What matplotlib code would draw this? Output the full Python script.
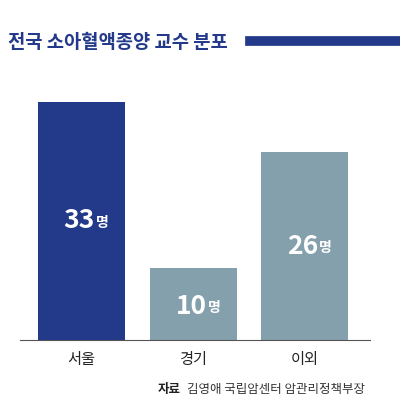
import matplotlib.pyplot as plt
from matplotlib.lines import Line2D

plt.rcParams['font.family'] = ['Noto Sans CJK KR', 'DejaVu Sans']

regions = ['서울', '경기', '이외']
counts = [33, 10, 26]
colors = ['#23398a', '#85a0ad', '#85a0ad']

fig = plt.figure(figsize=(4, 4.12), dpi=100)
ax = fig.add_axes([20 / 400, 72 / 412, 350 / 400, 260 / 412])
ax.bar(range(3), counts, width=0.78, color=colors)
ax.set_xlim(-0.552, 2.587)
ax.set_ylim(0, 36.05)
for s in ['top', 'right', 'left']:
    ax.spines[s].set_visible(False)
ax.spines['bottom'].set_color('#555555')
ax.spines['bottom'].set_linewidth(0.8)
ax.set_yticks([])
ax.set_xticks(range(3))
ax.set_xticklabels(regions, fontsize=11, color='#222222')
ax.tick_params(axis='x', length=0, pad=8)

for i, v in enumerate(counts):
    y = v / 2 if v > 15 else v / 2 - 0.3
    ax.text(i + 0.12, y, str(v), ha='right', va='center', fontsize=19,
            fontweight='bold', color='white')
    ax.text(i + 0.13, y - 0.3, '명', ha='left', va='center', fontsize=10,
            fontweight='bold', color='white')

fig.text(8 / 400, 1 - 42 / 412, '전국 소아혈액종양 교수 분포', fontsize=13.5,
         fontweight='bold', color='#23398a', va='center', ha='left')
fig.add_artist(Line2D([250 / 400, 398 / 400], [1 - 41 / 412] * 2,
                      color='#23398a', linewidth=7, transform=fig.transFigure))

fig.text(158 / 400, 1 - 390 / 412, '자료', fontsize=9, fontweight='bold',
         color='#222222', va='center', ha='left')
fig.text(187 / 400, 1 - 390 / 412, '김영애 국립암센터 암관리정책부장', fontsize=9,
         color='#333333', va='center', ha='left')

fig.savefig('out.png')
